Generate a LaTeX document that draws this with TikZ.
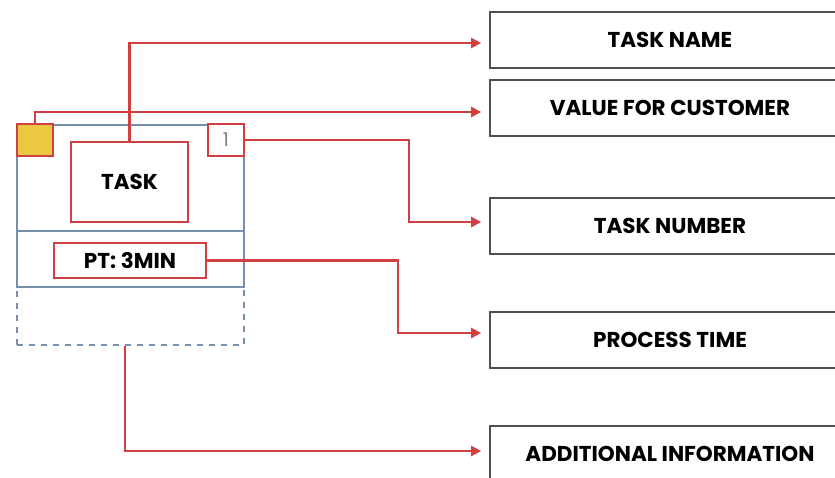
\documentclass[tikz,border=0pt]{standalone}
\usepackage{fontspec}
\setmainfont{Poppins}
\usetikzlibrary{arrows.meta}
\definecolor{linkred}{RGB}{208,64,66}
\definecolor{frameblue}{RGB}{120,142,174}
\definecolor{valueyellow}{RGB}{236,200,64}
\definecolor{labelgray}{RGB}{80,80,80}
\tikzset{
  frame/.style={draw=frameblue, line width=1.6pt, inner sep=0pt},
  redbox/.style={draw=linkred, line width=2.2pt, inner sep=0pt, fill=white},
  labelbox/.style={draw=labelgray, line width=1.6pt, fill=white, inner sep=0pt,
    minimum width=360pt, minimum height=56pt,
    font=\fontsize{21.5}{24}\selectfont\bfseries},
  link/.style={draw=linkred, line width=2.2pt,
    -{Triangle[length=10pt,width=10pt]}, shorten >=8pt},
  boxtext/.style={font=\fontsize{21.5}{24}\selectfont\bfseries}
}
\begin{document}
\begin{tikzpicture}[x=1pt, y=-1pt]
  \useasboundingbox (0,0) rectangle (835,477);
  % task card: dashed extra area, main frame, divider
  \node[frame, dashed, dash pattern=on 6pt off 6pt, minimum width=227pt, minimum height=58pt] (extra) at (130.5,316) {};
  \node[frame, fill=white, minimum width=227pt, minimum height=162pt] (main) at (130.5,206) {};
  \draw[frameblue, line width=1.6pt] (main.west |- 0,231) -- (main.east |- 0,231);
  % elements inside the card
  \node[redbox, fill=valueyellow, minimum width=36pt, minimum height=32pt] (yellow) at (35,140) {};
  \node[redbox, minimum width=36pt, minimum height=32pt, text=gray,
        font=\fontsize{19}{22}\selectfont] (num) at (226,140) {1};
  \node[redbox, minimum width=117pt, minimum height=80pt, boxtext] (task) at (129.5,182) {TASK};
  \node[redbox, minimum width=152pt, minimum height=35pt, boxtext] (pt) at (130,260.5) {PT: 3MIN};
  % legend boxes on the right
  \node[labelbox] (lname) at (670,40) {TASK NAME};
  \node[labelbox] (lvalue) at (670,108) {VALUE FOR CUSTOMER};
  \node[labelbox] (lnumber) at (670,226) {TASK NUMBER};
  \node[labelbox] (lptime) at (670,340) {PROCESS TIME};
  \node[labelbox] (ladd) at (670,454) {ADDITIONAL INFORMATION};
  % connectors
  \draw[link] (task.north) |- ([yshift=-3pt]lname.west);
  \draw[link] (yellow.north) |- ([yshift=-4pt]lvalue.west);
  \draw[link] (num.east) -- ++(164,0) |- ([yshift=4pt]lnumber.west);
  \draw[link] (pt.east) -- ++(191,0) |- ([yshift=7pt]lptime.west);
  \draw[link] ([xshift=-5.5pt]extra.south) |- ([yshift=3pt]ladd.west);
\end{tikzpicture}
\end{document}
